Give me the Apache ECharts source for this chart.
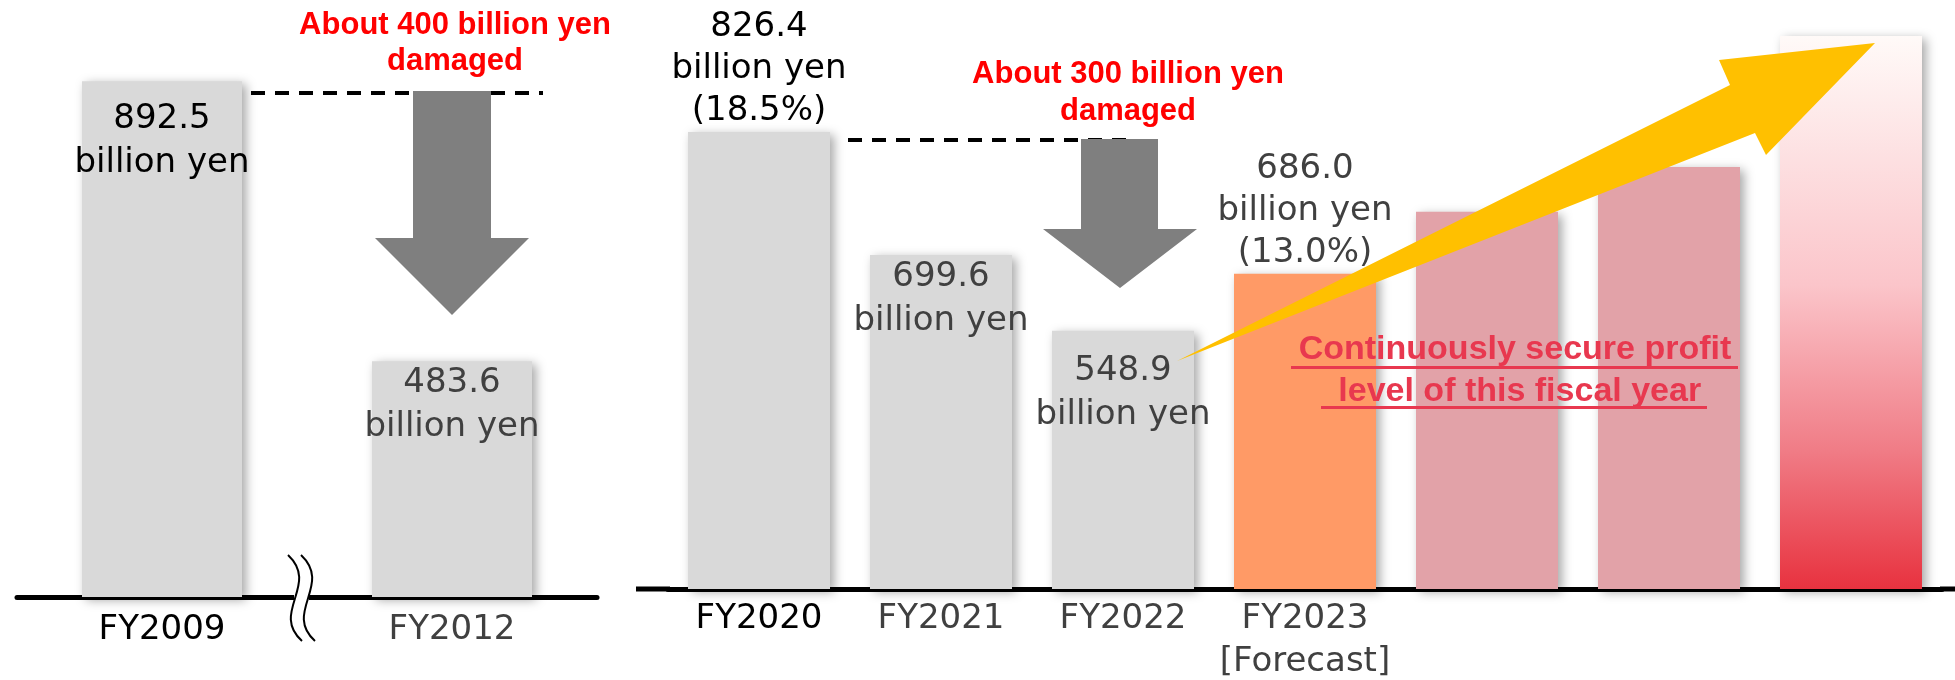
<!DOCTYPE html>
<html>
<head>
<meta charset="utf-8">
<script src="https://cdn.jsdelivr.net/npm/echarts@6/dist/echarts.min.js"></script>
<style>
html, body { margin: 0; padding: 0; background: #fff; }
#chart { width: 1955px; height: 680px; }
</style>
</head>
<body>
<div id="chart"></div>
<script>
// 左側: 震災前後の比較
const leftCats = ["FY2009", "FY2012"];
const leftProfit = ["892.5", "483.6"];
const leftLevel = [892.5, 408]; // 棒の高さ(図のまま、比例ではない)

// 右側: 直近と今後
const rightCats = ["FY2020", "FY2021", "FY2022", "FY2023\n[Forecast]", "", "", ""];
const rightProfit = ["826.4", "699.6", "548.9", "686.0", null, null, null];
const rightRatio = ["18.5%", null, null, "13.0%", null, null, null];
const rightLevel = [826.4, 604, 467, 570, 682, 763, 1000];

// 注記
const note400 = "About 400 billion yen\ndamaged";
const note300 = "About 300 billion yen\ndamaged";
const noteKeep = "Continuously secure profit\n level of this fiscal year";

const FONT = "DejaVu Sans";
const BOLD = "Liberation Sans";
const GRAY = "#D9D9D9";
const ORANGE = "#FF9A66";
const PINK = "#E2A2A8";
const DARK = "#404040";

const shadow = {
  shadowBlur: 10,
  shadowColor: "rgba(0,0,0,0.35)",
  shadowOffsetX: 4,
  shadowOffsetY: 3,
};

const barLabel = (text, pos, gap, color, lh) => ({
  show: true,
  position: pos,
  distance: gap,
  formatter: text,
  color: color,
  fontFamily: FONT,
  fontSize: 34,
  lineHeight: lh,
});

// 左の棒
const leftPos = ["insideTop", "insideTop"];
const leftGap = [16, 0];
const leftColor = ["#000", DARK];
const leftData = leftLevel.map((v, i) => ({
  value: v,
  itemStyle: Object.assign({ color: GRAY }, shadow),
  label: barLabel(leftProfit[i] + "\nbillion yen", leftPos[i], leftGap[i], leftColor[i], 44),
}));

// 右の棒
const redGrad = new echarts.graphic.LinearGradient(0, 0, 0, 1, [
  { offset: 0, color: "#FFFAF8" },
  { offset: 0.45, color: "#FBC5CA" },
  { offset: 0.75, color: "#F07C86" },
  { offset: 1, color: "#E8323F" },
]);
const rightFill = [GRAY, GRAY, GRAY, ORANGE, PINK, PINK, redGrad];
const rightPos = ["top", "insideTop", "insideTop", "top"];
const rightGap = [0, 0, 18, 0];
const rightColor = ["#000", DARK, DARK, DARK];
const rightData = rightLevel.map((v, i) => {
  const item = { value: v, itemStyle: Object.assign({ color: rightFill[i] }, shadow) };
  if (rightProfit[i]) {
    let txt = rightProfit[i] + "\nbillion yen";
    if (rightRatio[i]) txt += "\n(" + rightRatio[i] + ")";
    item.label = barLabel(txt, rightPos[i], rightGap[i], rightColor[i], rightRatio[i] ? 42 : 44);
  } else {
    item.label = { show: false };
  }
  return item;
});

const catColorLeft = ["#000", DARK];
const catColorRight = ["#000", DARK, DARK, DARK, DARK, DARK, DARK];

const axisX = (grid, cats, colors, margin) => ({
  gridIndex: grid,
  type: "category",
  data: cats,
  axisLine: { lineStyle: { color: "#000", width: 5 } },
  axisTick: { show: false },
  axisLabel: {
    interval: 0,
    hideOverlap: false,
    fontFamily: FONT,
    fontSize: 34,
    lineHeight: 43,
    margin: margin,
    color: (val, idx) => colors[idx],
  },
});

const chart = echarts.init(document.getElementById("chart"));
const option = {
  animation: false,
  grid: [
    { left: 17, width: 580, top: 77, height: 520, outerBoundsMode: "none", containLabel: false },
    { left: 668, width: 1274, top: 36, height: 553, outerBoundsMode: "none", containLabel: false },
  ],
  xAxis: [axisX(0, leftCats, catColorLeft, 12), axisX(1, rightCats, catColorRight, 9)],
  yAxis: [
    { gridIndex: 0, type: "value", min: 0, max: 900, show: false },
    { gridIndex: 1, type: "value", min: 0, max: 1000, show: false },
  ],
  series: [
    { type: "bar", xAxisIndex: 0, yAxisIndex: 0, barWidth: 160, data: leftData },
    { type: "bar", xAxisIndex: 1, yAxisIndex: 1, barWidth: 142, data: rightData },
  ],
  graphic: [
    // 軸線の延長
    { type: "rect", z: 50, shape: { x: 636, y: 586.5, width: 34, height: 5 }, style: { fill: "#000" } },
    { type: "rect", z: 50, shape: { x: 1940, y: 586.5, width: 15, height: 5 }, style: { fill: "#000" } },
    // 省略記号
    { type: "rect", z: 60, shape: { x: 294, y: 592, width: 15, height: 11 }, style: { fill: "#fff" } },
    {
      type: "bezierCurve", z: 61,
      shape: { x1: 288, y1: 555, cpx1: 320, cpy1: 585, cpx2: 270, cpy2: 612, x2: 302, y2: 641 },
      style: { stroke: "#000", lineWidth: 2, fill: null },
    },
    {
      type: "bezierCurve", z: 61,
      shape: { x1: 301, y1: 555, cpx1: 333, cpy1: 585, cpx2: 283, cpy2: 612, x2: 315, y2: 641 },
      style: { stroke: "#000", lineWidth: 2, fill: null },
    },
    // 破線
    { type: "line", z: 60, shape: { x1: 251, y1: 93, x2: 543, y2: 93 }, style: { stroke: "#000", lineWidth: 4, lineDash: [14, 10] } },
    { type: "line", z: 60, shape: { x1: 848, y1: 140, x2: 1132, y2: 140 }, style: { stroke: "#000", lineWidth: 4, lineDash: [14, 10] } },
    // 下向き矢印
    {
      type: "polygon", z: 70,
      shape: { points: [[413, 91], [491, 91], [491, 238], [529, 238], [452, 315], [375, 238], [413, 238]] },
      style: { fill: "#7F7F7F" },
    },
    {
      type: "polygon", z: 70,
      shape: { points: [[1081, 139], [1158, 139], [1158, 229], [1197, 229], [1120, 288], [1043, 229], [1081, 229]] },
      style: { fill: "#7F7F7F" },
    },
    // 上向き矢印(黄)
    {
      type: "polygon", z: 80,
      shape: { points: [[1177, 361], [1730, 85], [1719, 60], [1875, 43], [1766, 155], [1755, 133]] },
      style: { fill: "#FFC000" },
    },
    // 注記テキスト
    {
      type: "text", z: 90, x: 455, y: 7,
      style: { text: note400, fill: "#FF0000", font: "bold 31px " + BOLD, align: "center", verticalAlign: "top", lineHeight: 36 },
    },
    {
      type: "text", z: 90, x: 1128, y: 56,
      style: { text: note300, fill: "#FF0000", font: "bold 31px " + BOLD, align: "center", verticalAlign: "top", lineHeight: 37 },
    },
    {
      type: "text", z: 90, x: 1515, y: 329,
      style: { text: noteKeep, fill: "#E8384F", font: "bold 34px " + BOLD, align: "center", verticalAlign: "top", lineHeight: 42 },
    },
    { type: "rect", z: 90, shape: { x: 1291, y: 366, width: 447, height: 3 }, style: { fill: "#E8384F" } },
    { type: "rect", z: 90, shape: { x: 1321, y: 406, width: 386, height: 3 }, style: { fill: "#E8384F" } },
  ],
};
chart.setOption(option);
</script>
</body>
</html>
